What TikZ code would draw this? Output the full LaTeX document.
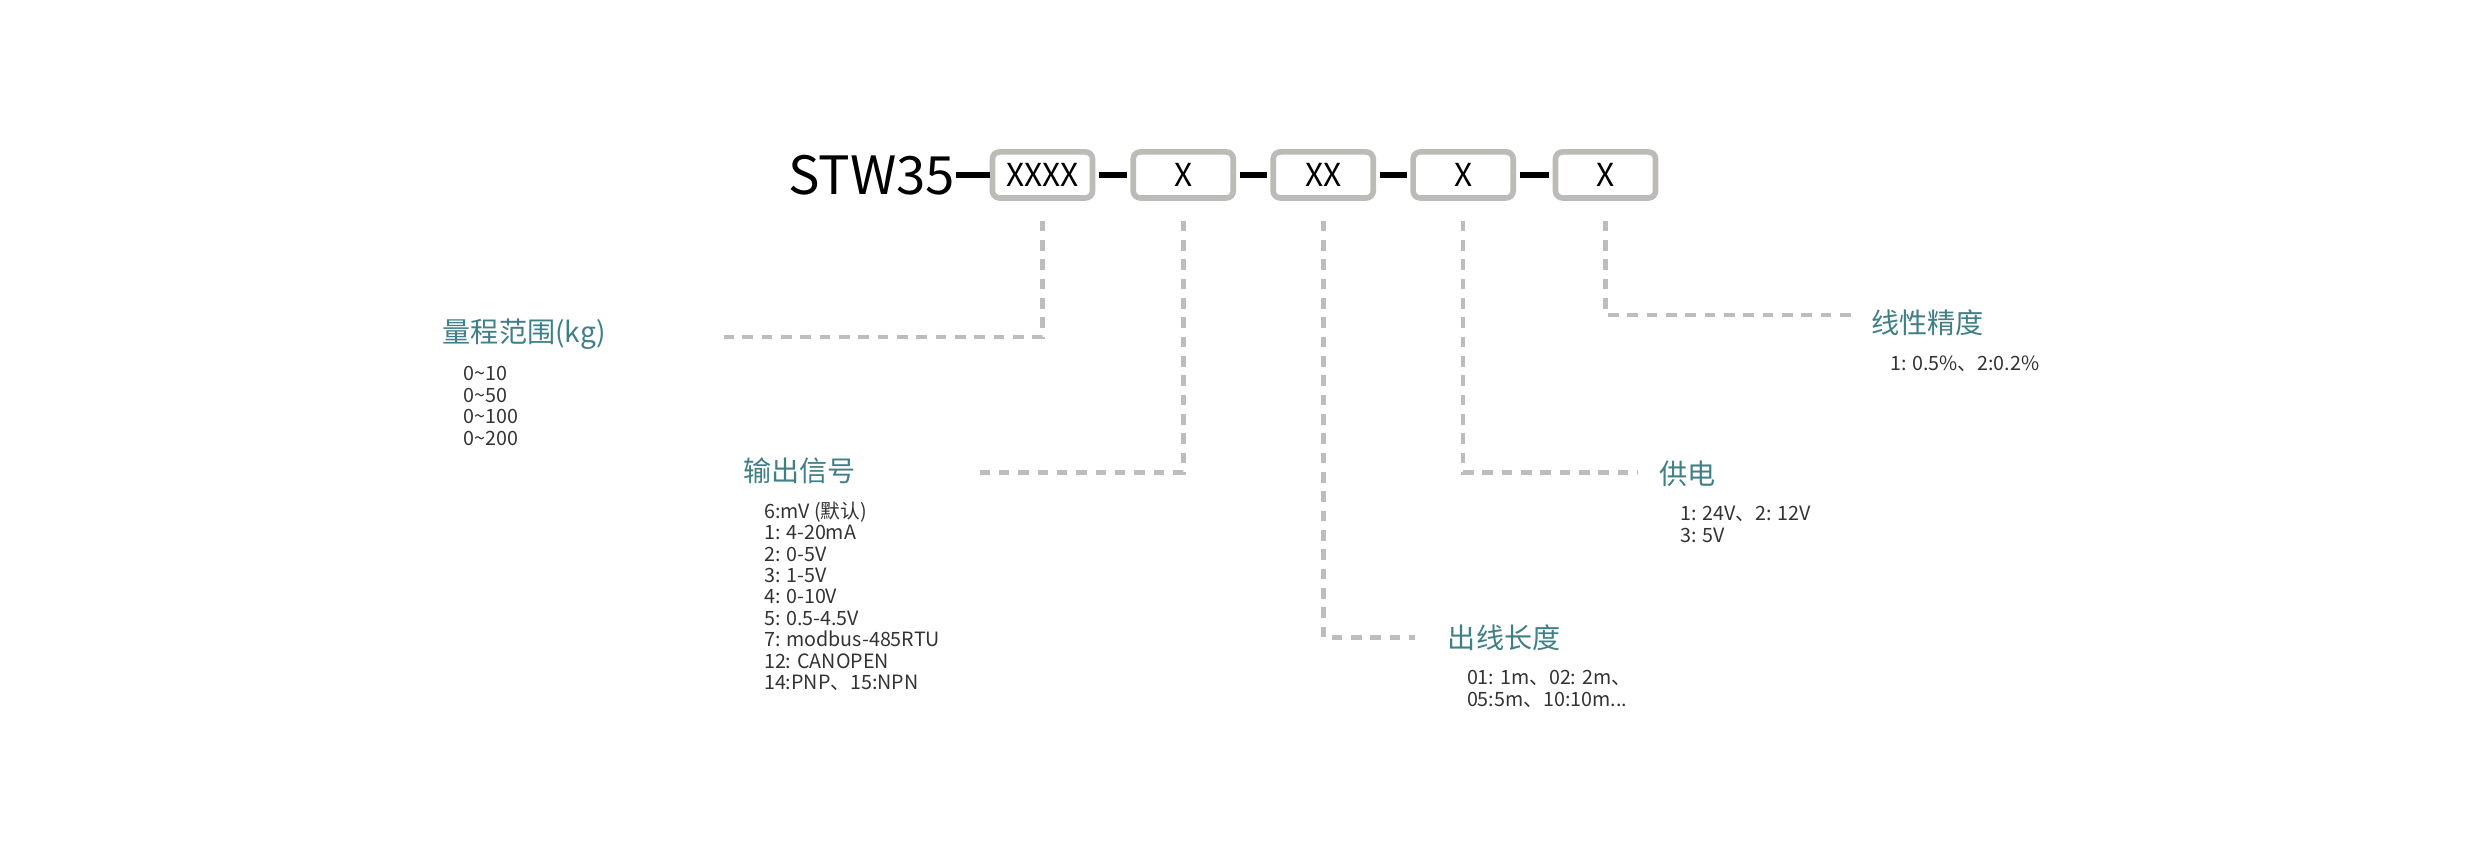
\documentclass[tikz,border=0pt]{standalone}
\usepackage{fontspec}
\setmainfont{Noto Sans CJK SC}
\usetikzlibrary{positioning}
\definecolor{tealtxt}{HTML}{3F7F86}
\definecolor{boxgray}{HTML}{BDBBB8}
\definecolor{dashgray}{HTML}{BDBDBD}
\tikzset{
  codebox/.style={draw=boxgray, line width=1.6pt, rounded corners=2pt,
    minimum width=1.0cm, minimum height=0.46cm, inner sep=0, font=\fontsize{9}{9}\selectfont},
  sep/.style={line width=1.8pt, black},
  lead/.style={draw=dashgray, line width=1.3pt, dash pattern=on 3pt off 2.5pt},
  title/.style={anchor=west, text=tealtxt, font=\fontsize{8}{9}\selectfont, inner sep=0},
  items/.style={anchor=north west, align=left, text=black!80, inner sep=0,
    font=\fontsize{5.6}{6.1}\selectfont}
}
\begin{document}
\begin{tikzpicture}[x=0.0159cm,y=-0.0159cm]
\useasboundingbox (0,0) rectangle (1560,540);
% model code
\node[anchor=east, inner sep=0, font=\fontsize{15}{15}\selectfont] (model) at (601,110) {STW35};
\node[codebox] (b1) at (655.5,110) {XXXX};
\node[codebox] (b2) at (744,110) {X};
\node[codebox] (b3) at (832,110) {XX};
\node[codebox] (b4) at (920,110) {X};
\node[codebox] (b5) at (1009.5,110) {X};
\draw[sep] (601,110) -- (b1.west);
\foreach \a/\b in {b1/b2,b2/b3,b3/b4,b4/b5}
  \draw[sep] ([xshift=1pt]\a.east) -- ([xshift=-1pt]\b.west);
% leaders
\coordinate (e1) at (455,212);
\coordinate (e2) at (615,297);
\coordinate (e3) at (890,401);
\coordinate (e4) at (1030,297);
\coordinate (e5) at (1165,198);
\draw[lead] ([yshift=-0.2cm]b1.south) |- (e1);
\draw[lead] ([yshift=-0.2cm]b2.south) |- (e2);
\draw[lead] ([yshift=-0.2cm]b3.south) |- (e3);
\draw[lead] ([yshift=-0.2cm]b4.south) |- (e4);
\draw[lead] ([yshift=-0.2cm]b5.south) |- (e5);
% labels
\node[title] (t1) at (278,210) {量程范围(kg)};
\node[items] (l1) at (291,230) {0\textasciitilde10\\0\textasciitilde50\\0\textasciitilde100\\0\textasciitilde200};
\node[title] (t2) at (467,296) {输出信号};
\node[items] (l2) at (480,315) {6:mV (默认)\\1: 4-20mA\\2: 0-5V\\3: 1-5V\\4: 0-10V\\5: 0.5-4.5V\\7: modbus-485RTU\\12: CANOPEN\\14:PNP、15:NPN};
\node[title] (t3) at (910,401) {出线长度};
\node[items] (l3) at (922,421) {01: 1m、02: 2m、\\05:5m、10:10m...};
\node[title] (t4) at (1043,298) {供电};
\node[items] (l4) at (1056,318) {1: 24V、2: 12V\\3: 5V};
\node[title] (t5) at (1176,203) {线性精度};
\node[items] (l5) at (1188,223) {1: 0.5\%、2:0.2\%};
\end{tikzpicture}
\end{document}
